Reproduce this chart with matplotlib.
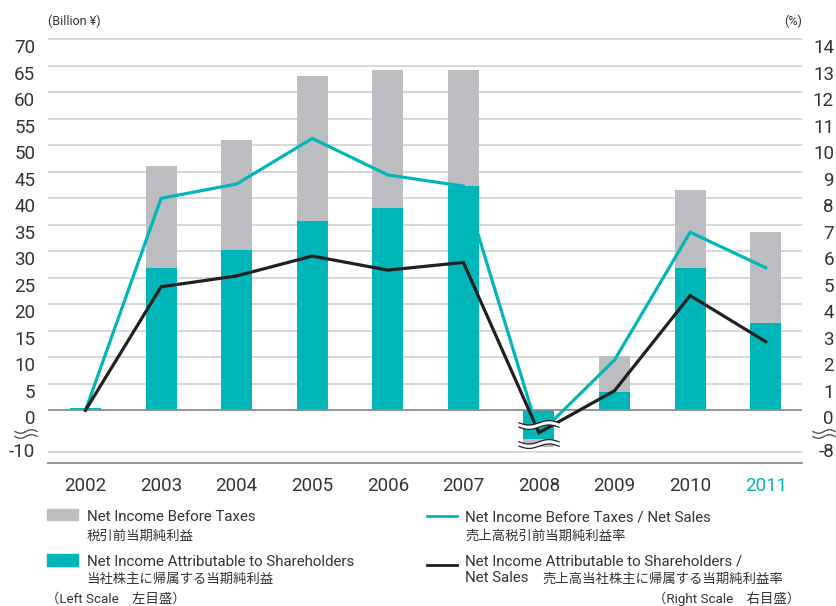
import matplotlib.pyplot as plt
import numpy as np
from matplotlib.lines import Line2D
from matplotlib.patches import Polygon, Rectangle

# values
years = ["2002", "2003", "2004", "2005", "2006", "2007", "2008", "2009", "2010", "2011"]
before_tax = [0.5, 46.0, 51.0, 63.1, 64.2, 64.2, -8.9, 10.2, 41.6, 33.6]          # billion yen
net_income = [0.5, 26.8, 30.2, 35.7, 38.2, 42.3, -6.9, 3.45, 26.8, 16.5]          # billion yen
before_tax_ratio = [0.0, 8.0, 8.54, 10.26, 8.88, 8.46, -4.6, 1.9, 6.72, 5.38]      # %
net_income_ratio = [0.0, 4.66, 5.07, 5.82, 5.29, 5.58, -4.3, 0.74, 4.33, 2.59]     # %

left_ticks = [-10, 0, 5, 10, 15, 20, 25, 30, 35, 40, 45, 50, 55, 60, 65, 70]
right_ticks = [-8, 0, 1, 2, 3, 4, 5, 6, 7, 8, 9, 10, 11, 12, 13, 14]

TEAL = "#00B6B8"
GRAY = "#BCBDC0"
BLACK = "#231F20"
GRID = "#D4D4D4"
AXIS = "#8C8C8C"
TEXT = "#333333"

W, H = 837, 606
plt.rcParams["font.family"] = ["Roboto", "Noto Sans CJK JP", "DejaVu Sans"]

# the axis is broken below zero: the negative part is squeezed so that
# the lowest tick sits just under the zero line
BREAK_POS = -7.87  # left-scale position where the lowest tick is drawn


def squeeze(values, lowest):
    factor = BREAK_POS / lowest
    return [v if v >= 0 else v * factor for v in values]


def squeeze_right(values, lowest):
    factor = (BREAK_POS / 5) / lowest
    return [v if v >= 0 else v * factor for v in values]


def px(x, y):
    return x / W, 1 - y / H


fig = plt.figure(figsize=(W / 100, H / 100), dpi=100)
left, right, top, bottom = 47.7, 802, 36, 463
ax = fig.add_axes([left / W, 1 - bottom / H, (right - left) / W, (bottom - top) / H])
ymax = 70 + (39.3 - top) / 5.3
ymin = -(bottom - 410.3) / 5.3
ax.set_ylim(ymin, ymax)
ax.set_xlim(-0.5, 9.48)

x = np.arange(len(years))
bar_w = 0.41
ax.bar(x, squeeze(before_tax, -10), width=bar_w, color=GRAY, zorder=2)
ax.bar(x, squeeze(net_income, -10), width=bar_w, color=TEAL, zorder=3)

left_pos = squeeze(left_ticks, -10)
for p in left_pos:
    if p != 0:
        ax.axhline(p, color=GRID, lw=1.3, zorder=1)
ax.axhline(0, color=AXIS, lw=1.3, zorder=4)

for side in ["top", "left", "right"]:
    ax.spines[side].set_visible(False)
ax.spines["bottom"].set_color(AXIS)
ax.spines["bottom"].set_linewidth(1.3)

ax.set_yticks(left_pos, [str(t) for t in left_ticks])
ax.tick_params(axis="y", length=0, pad=9, labelsize=13.5, labelcolor=TEXT)
for lbl, t in zip(ax.get_yticklabels(), left_ticks):
    lbl.set_va("center" if t < 0 else "top")

ax.set_xticks(x, years)
ax.tick_params(axis="x", length=0, pad=10, labelsize=13.5, labelcolor=TEXT)
ax.get_xticklabels()[-1].set_color(TEAL)

ax2 = ax.twinx()
ax2.set_ylim(ymin / 5, ymax / 5)
for side in ["top", "left", "right", "bottom"]:
    ax2.spines[side].set_visible(False)
ax2.plot(x, squeeze_right(before_tax_ratio, -8), color=TEAL, lw=2.3,
         solid_joinstyle="miter", zorder=5)
ax2.plot(x, squeeze_right(net_income_ratio, -8), color=BLACK, lw=2.3,
         solid_joinstyle="miter", zorder=6)
ax2.set_yticks(squeeze_right(right_ticks, -8), [str(t) for t in right_ticks])
ax2.tick_params(axis="y", length=0, pad=23, labelsize=13.5, labelcolor=TEXT)
for lbl, t in zip(ax2.get_yticklabels(), right_ticks):
    lbl.set_ha("right")
    lbl.set_va("center" if t < 0 else "top")


# wavy break marks, drawn in pixel space
def wave_points(x0, x1, yc, amp, periods=1.0, n=40):
    xs = np.linspace(x0, x1, n)
    ys = yc + amp * np.sin(np.linspace(0, 2 * np.pi * periods, n))
    return xs, ys


def to_fig(xs, ys):
    return xs / W, 1 - ys / H


def bar_break(yc):
    xs, ys = wave_points(519, 559, yc, 2.2)
    fx, fy1 = to_fig(xs, ys - 2.2)
    _, fy2 = to_fig(xs, ys + 2.2)
    band = np.column_stack([np.r_[fx, fx[::-1]], np.r_[fy1, fy2[::-1]]])
    fig.add_artist(Polygon(band, closed=True, facecolor="white", edgecolor="none",
                           transform=fig.transFigure, zorder=4))
    fig.add_artist(Line2D(fx, fy1, color=BLACK, lw=0.9, transform=fig.transFigure, zorder=4))
    fig.add_artist(Line2D(fx, fy2, color=BLACK, lw=0.9, transform=fig.transFigure, zorder=4))


def axis_break(x0, x1):
    for yc in (431.5, 436.5):
        xs, ys = wave_points(x0, x1, yc, 1.8)
        fx, fy = to_fig(xs, ys)
        fig.add_artist(Line2D(fx, fy, color="#555555", lw=1.0, transform=fig.transFigure))


bar_break(425)
bar_break(444)
axis_break(15, 37)
axis_break(813, 835)

# unit labels
fig.text(*px(47.7, 25), "(Billion ¥)", fontsize=9, color=TEXT, va="baseline")
fig.text(*px(802, 25), "(%)", fontsize=9, color=TEXT, ha="right", va="baseline")

# legend, drawn by hand
fig.add_artist(Rectangle(px(47, 520), 31 / W, 11 / H, color=GRAY, transform=fig.transFigure))
fig.add_artist(Rectangle(px(47, 566), 31 / W, 12 / H, color=TEAL, transform=fig.transFigure))
fig.add_artist(Line2D([427 / W, 457 / W], [1 - 515.7 / H] * 2, color=TEAL, lw=2,
                      transform=fig.transFigure))
fig.add_artist(Line2D([427 / W, 457 / W], [1 - 565 / H] * 2, color=BLACK, lw=2,
                      transform=fig.transFigure))

EN = 10.8
JP = 9.6
legend_lines = [
    (86.7, 521, "Net Income Before Taxes", "left", EN),
    (86.7, 539.5, "税引前当期純利益", "left", JP),
    (86.7, 566, "Net Income Attributable to Shareholders", "left", EN),
    (86.7, 582.5, "当社株主に帰属する当期純利益", "left", JP),
    (46, 603, "（Left Scale　左目盛）", "left", JP),
    (465, 522, "Net Income Before Taxes / Net Sales", "left", EN),
    (465, 539.5, "売上高税引前当期純利益率", "left", JP),
    (465, 566, "Net Income Attributable to Shareholders /", "left", EN),
    (465, 582.5, "Net Sales", "left", EN),
    (542.7, 582.5, "売上高当社株主に帰属する当期純利益率", "left", JP),
    (800, 603, "（Right Scale　右目盛）", "right", JP),
]
for lx, ly, txt, ha, size in legend_lines:
    fig.text(*px(lx, ly), txt, fontsize=size, color=TEXT, ha=ha, va="baseline")

fig.savefig("out.png", dpi=100)
plt.close(fig)
